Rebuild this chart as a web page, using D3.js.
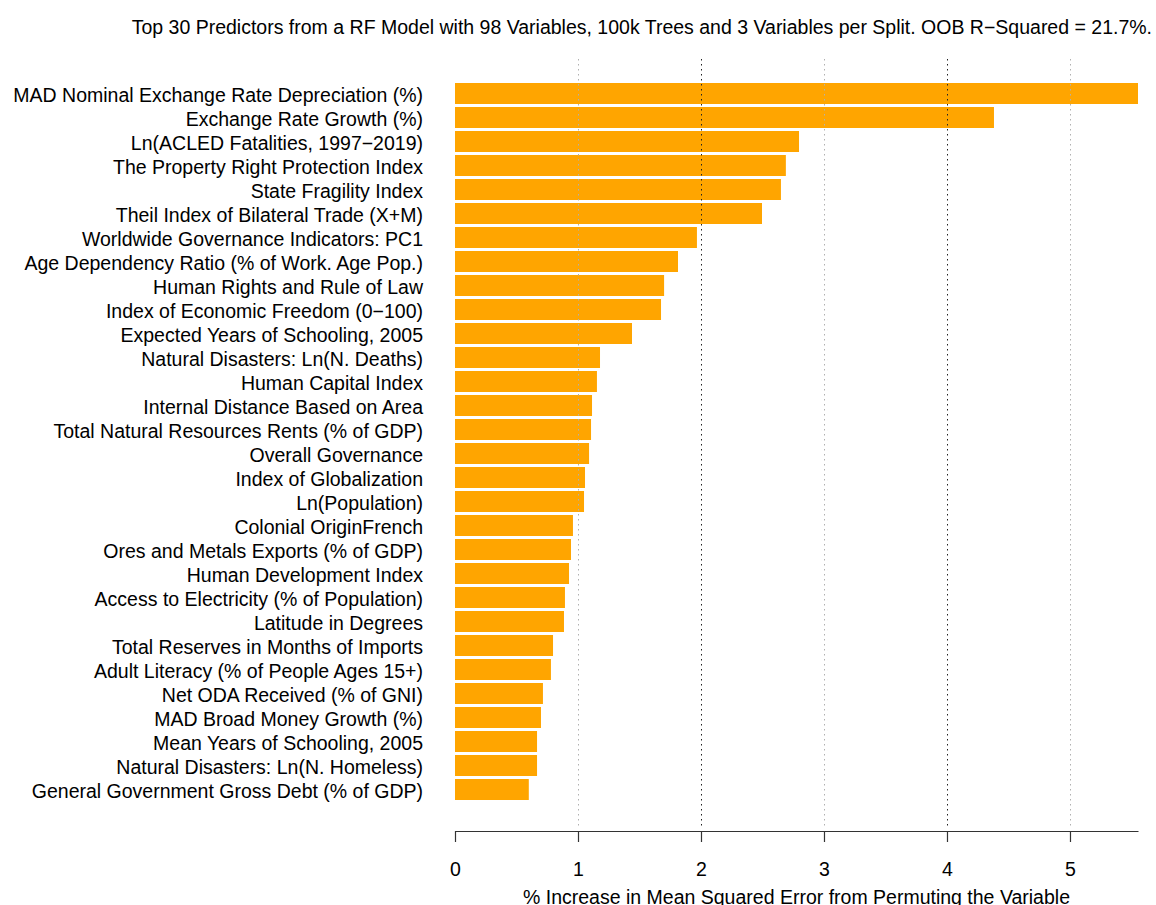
<html>

<head>
    <style>
        body { margin: 0; background: white; }
        text { font-family: "Liberation Sans", Arial, sans-serif; fill: black; }
        .grid-light { stroke: #b0b0b0; stroke-dasharray: 1.5, 3.5; }
        .grid-dark { stroke: #222; stroke-dasharray: 1.5, 3.5; }
    </style>
</head>

<body>
    <svg id="container" height="905" width="1156">
        <g id="body" />
        <g id="grid" />
        <g id="xaxis" />
    </svg>
</body>
<script src="https://cdn.jsdelivr.net/npm/d3@7"></script>

<script>
    let variables = [
        "MAD Nominal Exchange Rate Depreciation (%)",
        "Exchange Rate Growth (%)",
        "Ln(ACLED Fatalities, 1997\u22122019)",
        "The Property Right Protection Index",
        "State Fragility Index",
        "Theil Index of Bilateral Trade (X+M)",
        "Worldwide Governance Indicators: PC1",
        "Age Dependency Ratio (% of Work. Age Pop.)",
        "Human Rights and Rule of Law",
        "Index of Economic Freedom (0\u2212100)",
        "Expected Years of Schooling, 2005",
        "Natural Disasters: Ln(N. Deaths)",
        "Human Capital Index",
        "Internal Distance Based on Area",
        "Total Natural Resources Rents (% of GDP)",
        "Overall Governance",
        "Index of Globalization",
        "Ln(Population)",
        "Colonial OriginFrench",
        "Ores and Metals Exports (% of GDP)",
        "Human Development Index",
        "Access to Electricity (% of Population)",
        "Latitude in Degrees",
        "Total Reserves in Months of Imports",
        "Adult Literacy (% of People Ages 15+)",
        "Net ODA Received (% of GNI)",
        "MAD Broad Money Growth (%)",
        "Mean Years of Schooling, 2005",
        "Natural Disasters: Ln(N. Homeless)",
        "General Government Gross Debt (% of GDP)"
    ]

    let incMSE = [
        5.553, 4.382, 2.797, 2.69, 2.65, 2.496, 1.967, 1.813, 1.70, 1.675,
        1.439, 1.179, 1.154, 1.114, 1.106, 1.09, 1.057, 1.049, 0.959, 0.943,
        0.927, 0.894, 0.886, 0.797, 0.78, 0.715, 0.699, 0.667, 0.667, 0.60
    ]

    let xTicks = [0, 1, 2, 3, 4, 5]
    let darkGrid = [2, 4]

    let titleText = "Top 30 Predictors from a RF Model with 98 Variables, 100k Trees and 3 Variables per Split. OOB R\u2212Squared = 21.7%."
    let xLabel = "% Increase in Mean Squared Error from Permuting the Variable"

    let svg = d3.select("#container")
    let fontSize = 19.5

    let left = 455, right = 1138
    let x = d3.scaleLinear().domain([0, d3.max(incMSE)]).range([left, right])
    let y = d3.scaleBand().domain(variables).range([81.5, 801.5]).paddingInner(0.125).paddingOuter(0.0625)

    svg.append("text")
        .attr("x", 1152).attr("y", 34)
        .attr("text-anchor", "end")
        .attr("font-size", fontSize)
        .text(titleText)

    d3.select("#body").selectAll("rect").data(variables)
        .enter().append("rect")
        .attr("x", x(0))
        .attr("y", d => y(d))
        .attr("width", (d, i) => x(incMSE[i]) - x(0))
        .attr("height", y.bandwidth())
        .attr("fill", "#FFA500")

    d3.select("#body").selectAll("text").data(variables)
        .enter().append("text")
        .attr("x", 423)
        .attr("y", d => y(d) + y.bandwidth() / 2 + 1.5)
        .attr("dy", "0.36em")
        .attr("text-anchor", "end")
        .attr("font-size", fontSize)
        .text(d => d)

    d3.select("#grid").selectAll("line").data(xTicks.filter(t => t > 0))
        .enter().append("line")
        .attr("class", d => darkGrid.includes(d) ? "grid-dark" : "grid-light")
        .attr("x1", d => Math.round(x(d)) + 0.5).attr("x2", d => Math.round(x(d)) + 0.5)
        .attr("y1", 59).attr("y2", 826)

    let axis = d3.axisBottom(x).tickValues(xTicks).tickFormat(d3.format("d"))
        .tickSizeInner(11).tickSizeOuter(0).tickPadding(20)
    let gx = d3.select("#xaxis").attr("transform", "translate(0,831)").call(axis)
    gx.select(".domain").attr("stroke", "#333").attr("stroke-width", 1.2)
    gx.selectAll(".tick line").attr("stroke", "#333").attr("stroke-width", 1.2)
    gx.selectAll(".tick text").attr("font-size", fontSize).attr("font-family", "Liberation Sans, Arial, sans-serif").attr("fill", "black")

    svg.append("text")
        .attr("x", (left + right) / 2).attr("y", 904)
        .attr("text-anchor", "middle")
        .attr("font-size", fontSize)
        .text(xLabel)
</script>

</html>
